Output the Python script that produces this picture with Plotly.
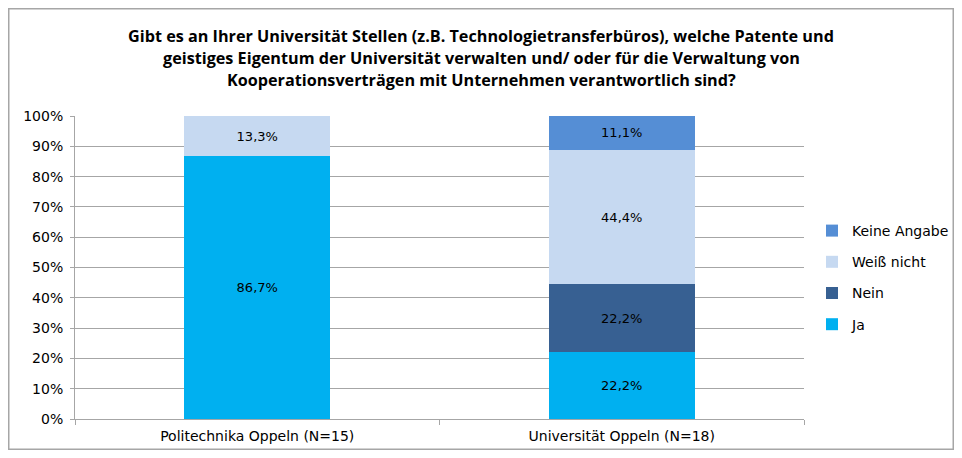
import plotly.graph_objects as go

categories = ["Politechnika Oppeln (N=15)", "Universität Oppeln (N=18)"]
series_names = ["Ja", "Nein", "Weiß nicht", "Keine Angabe"]
ja = [86.7, 22.2]
nein = [0.0, 22.2]
weiss_nicht = [13.3, 44.4]
keine_angabe = [0.0, 11.1]
y_ticks = [0, 10, 20, 30, 40, 50, 60, 70, 80, 90, 100]
y_tick_labels = [f"{t}%" for t in y_ticks]
title_lines = [
    "Gibt es an Ihrer Universität Stellen (z.B. Technologietransferbüros), welche Patente und",
    "geistiges Eigentum der Universität verwalten und/ oder für die Verwaltung von",
    "Kooperationsverträgen mit Unternehmen verantwortlich sind?",
]

colors = ["#00B0F0", "#376092", "#C6D9F1", "#558ED5"]
legend_ranks = [4, 3, 2, 1]
FONT = "DejaVu Sans"
TFONT = "Open Sans"

def fmt(v):
    return "" if v == 0 else f"{v:.1f}%".replace(".", ",")

# page offset (body margin) compensation
OFF = 8
W, H = 946, 442
ml, mr, mt, mb = 67, 150, 108, 31
pw = W - ml - mr
ph = H - mt - mb

def px_x(p):
    return (p - OFF - ml) / pw

def px_y(p):
    return ((H - mb) - (p - OFF)) / ph

fig = go.Figure()
for name, vals, col, rk in zip(series_names, [ja, nein, weiss_nicht, keine_angabe], colors, legend_ranks):
    fig.add_trace(go.Bar(
        name=name, x=categories, y=vals, marker=dict(color=col, line=dict(width=0)),
        text=[fmt(v) for v in vals], textposition="inside", insidetextanchor="middle",
        textangle=0, insidetextfont=dict(color="black", size=13, family=FONT),
        legendgroup=name, legendrank=rk, hoverinfo="skip",
    ))

fig.update_layout(
    width=W, height=H,
    margin=dict(l=ml, r=mr, t=mt, b=mb, pad=0, autoexpand=False),
    barmode="stack", barnorm="percent", bargap=0.6,
    paper_bgcolor="white", plot_bgcolor="white",
    font=dict(family=FONT, size=14, color="black"),
    showlegend=True,
    legend=dict(traceorder="grouped", tracegroupgap=10, x=px_x(812), xanchor="left",
                y=px_y(277.5), yanchor="middle", font=dict(size=14, family=FONT),
                itemwidth=30, bgcolor="rgba(0,0,0,0)"),
    xaxis=dict(showline=True, linecolor="#A6A6A6", linewidth=1, ticks="outside",
               tickson="boundaries", ticklen=5, tickcolor="#A6A6A6", showgrid=False,
               tickfont=dict(size=14), ticklabelstandoff=4, automargin=False),
    yaxis=dict(range=[0, 100], tickvals=y_ticks, ticktext=y_tick_labels, showline=True,
               linecolor="#A6A6A6", linewidth=1, ticks="outside", ticklen=4,
               tickcolor="#A6A6A6", showgrid=True, gridcolor="#A6A6A6", gridwidth=1,
               zeroline=False, tickfont=dict(size=14), ticklabelstandoff=4, automargin=False),
)

for i, (line, yc) in enumerate(zip(title_lines, [36, 58, 80])):
    fig.add_annotation(text=f"<b>{line}</b>", xref="paper", yref="paper",
                       x=px_x(481), y=px_y(yc), xanchor="center", yanchor="middle",
                       showarrow=False, font=dict(family=TFONT, size=16.2, color="black"))

# outer chart border
fig.add_shape(type="rect", xref="paper", yref="paper",
              x0=(0.75 - ml) / pw, x1=(W - 0.75 - ml) / pw,
              y0=-(H - 0.75 - (H - mb)) / ph, y1=((H - mb) - 0.75) / ph,
              line=dict(color="#A6A6A6", width=1.5), fillcolor="rgba(0,0,0,0)", layer="below")

fig.write_html("out.html")
